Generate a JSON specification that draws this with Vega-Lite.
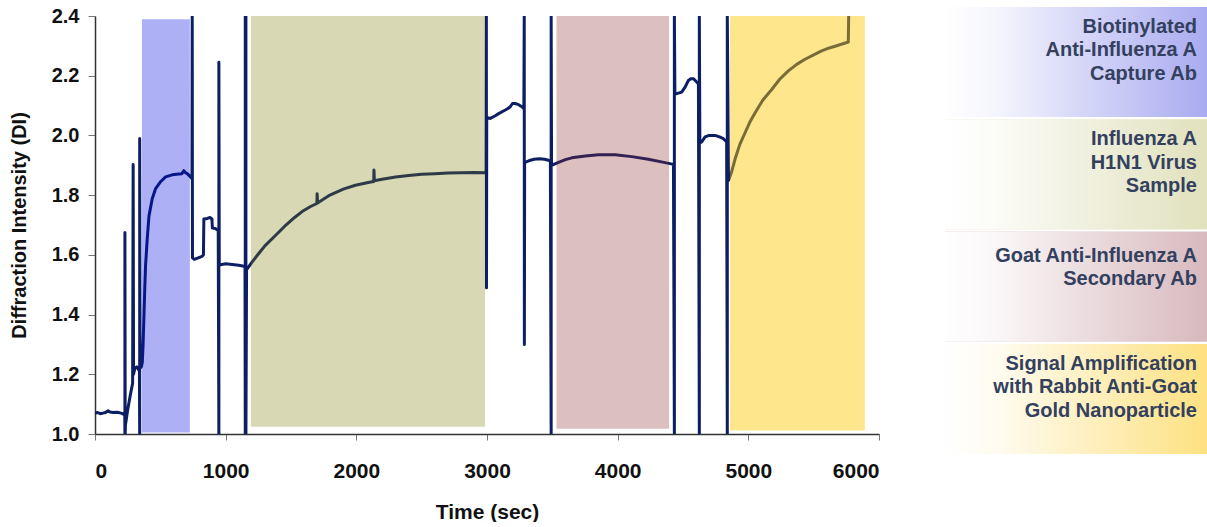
{
  "$schema": "https://vega.github.io/schema/vega-lite/v6.json",
  "background": "white",
  "padding": {"left": 9, "top": 6, "right": 0, "bottom": 0},
  "config": {
    "view": {"stroke": null},
    "font": "Liberation Sans",
    "concat": {"spacing": 65}
  },
  "datasets": {
    "trace": [
      {"t": 0, "v": 1.07}, {"t": 20, "v": 1.072}, {"t": 40, "v": 1.068}, {"t": 60, "v": 1.07}, {"t": 80, "v": 1.072},
      {"t": 100, "v": 1.078}, {"t": 115, "v": 1.074}, {"t": 140, "v": 1.072}, {"t": 170, "v": 1.073}, {"t": 200, "v": 1.07},
      {"t": 220, "v": 1.066}, {"t": 228, "v": 1.063}, {"t": 229, "v": 1.0}, {"t": 229, "v": 1.675}, {"t": 231, "v": 1.0},
      {"t": 233, "v": 1.03}, {"t": 250, "v": 1.08}, {"t": 270, "v": 1.13}, {"t": 288, "v": 1.17}, {"t": 292, "v": 1.903},
      {"t": 295, "v": 1.2}, {"t": 305, "v": 1.22}, {"t": 320, "v": 1.225}, {"t": 335, "v": 1.215}, {"t": 340, "v": 1.21},
      {"t": 342, "v": 1.0}, {"t": 342, "v": 1.99}, {"t": 345, "v": 1.22}, {"t": 355, "v": 1.225}, {"t": 362, "v": 1.24},
      {"t": 368, "v": 1.3}, {"t": 375, "v": 1.4}, {"t": 381, "v": 1.49}, {"t": 387, "v": 1.565}, {"t": 400, "v": 1.655},
      {"t": 413, "v": 1.73}, {"t": 438, "v": 1.788}, {"t": 464, "v": 1.822}, {"t": 502, "v": 1.845}, {"t": 540, "v": 1.861},
      {"t": 591, "v": 1.868}, {"t": 642, "v": 1.871}, {"t": 665, "v": 1.872}, {"t": 680, "v": 1.882}, {"t": 690, "v": 1.876},
      {"t": 706, "v": 1.872}, {"t": 731, "v": 1.861}, {"t": 742, "v": 1.855}, {"t": 744, "v": 2.4}, {"t": 746, "v": 1.59},
      {"t": 760, "v": 1.585}, {"t": 790, "v": 1.59}, {"t": 820, "v": 1.595}, {"t": 830, "v": 1.6}, {"t": 833, "v": 1.72},
      {"t": 860, "v": 1.722}, {"t": 880, "v": 1.725}, {"t": 895, "v": 1.72}, {"t": 898, "v": 1.69}, {"t": 920, "v": 1.688},
      {"t": 943, "v": 1.682}, {"t": 948, "v": 1.0}, {"t": 948, "v": 2.245}, {"t": 951, "v": 1.565}, {"t": 970, "v": 1.568},
      {"t": 1000, "v": 1.57}, {"t": 1050, "v": 1.568}, {"t": 1100, "v": 1.565}, {"t": 1140, "v": 1.562}, {"t": 1148, "v": 1.56},
      {"t": 1150, "v": 1.0}, {"t": 1150, "v": 2.4}, {"t": 1155, "v": 2.4}, {"t": 1155, "v": 1.0}, {"t": 1160, "v": 1.553},
      {"t": 1165, "v": 1.553}, {"t": 1200, "v": 1.575}, {"t": 1250, "v": 1.603}, {"t": 1300, "v": 1.63}, {"t": 1381, "v": 1.665},
      {"t": 1450, "v": 1.695}, {"t": 1530, "v": 1.726}, {"t": 1585, "v": 1.745}, {"t": 1650, "v": 1.762}, {"t": 1698, "v": 1.772},
      {"t": 1700, "v": 1.805}, {"t": 1703, "v": 1.774}, {"t": 1789, "v": 1.798}, {"t": 1900, "v": 1.82}, {"t": 1993, "v": 1.833},
      {"t": 2100, "v": 1.843}, {"t": 2133, "v": 1.846}, {"t": 2135, "v": 1.884}, {"t": 2138, "v": 1.848}, {"t": 2197, "v": 1.853},
      {"t": 2300, "v": 1.861}, {"t": 2401, "v": 1.866}, {"t": 2500, "v": 1.87}, {"t": 2600, "v": 1.872}, {"t": 2700, "v": 1.874},
      {"t": 2800, "v": 1.875}, {"t": 2900, "v": 1.876}, {"t": 2993, "v": 1.875}, {"t": 2995, "v": 2.4}, {"t": 2996, "v": 1.49},
      {"t": 2998, "v": 2.06}, {"t": 3025, "v": 2.057}, {"t": 3060, "v": 2.065}, {"t": 3089, "v": 2.073}, {"t": 3140, "v": 2.085},
      {"t": 3160, "v": 2.09}, {"t": 3178, "v": 2.096}, {"t": 3195, "v": 2.107}, {"t": 3215, "v": 2.107}, {"t": 3242, "v": 2.103},
      {"t": 3267, "v": 2.096}, {"t": 3282, "v": 2.09}, {"t": 3285, "v": 2.4}, {"t": 3286, "v": 1.3}, {"t": 3288, "v": 1.91},
      {"t": 3320, "v": 1.915}, {"t": 3360, "v": 1.92}, {"t": 3400, "v": 1.922}, {"t": 3440, "v": 1.92}, {"t": 3485, "v": 1.915},
      {"t": 3491, "v": 1.0}, {"t": 3491, "v": 2.4}, {"t": 3494, "v": 1.9}, {"t": 3547, "v": 1.91}, {"t": 3600, "v": 1.919},
      {"t": 3649, "v": 1.925}, {"t": 3752, "v": 1.931}, {"t": 3853, "v": 1.935}, {"t": 3981, "v": 1.935}, {"t": 4108, "v": 1.929},
      {"t": 4235, "v": 1.92}, {"t": 4363, "v": 1.909}, {"t": 4427, "v": 1.903}, {"t": 4434, "v": 1.0}, {"t": 4434, "v": 2.4},
      {"t": 4438, "v": 2.14}, {"t": 4452, "v": 2.14}, {"t": 4490, "v": 2.145}, {"t": 4516, "v": 2.162}, {"t": 4541, "v": 2.184},
      {"t": 4560, "v": 2.19}, {"t": 4579, "v": 2.19}, {"t": 4605, "v": 2.179}, {"t": 4618, "v": 2.172}, {"t": 4625, "v": 1.0},
      {"t": 4625, "v": 2.4}, {"t": 4629, "v": 1.975}, {"t": 4643, "v": 1.978}, {"t": 4669, "v": 1.995}, {"t": 4700, "v": 2.0},
      {"t": 4745, "v": 2.0}, {"t": 4780, "v": 1.995}, {"t": 4809, "v": 1.989}, {"t": 4834, "v": 1.978}, {"t": 4839, "v": 1.0},
      {"t": 4839, "v": 2.4}, {"t": 4848, "v": 1.849}, {"t": 4870, "v": 1.875}, {"t": 4898, "v": 1.92}, {"t": 4935, "v": 1.97},
      {"t": 4975, "v": 2.009}, {"t": 5010, "v": 2.043}, {"t": 5052, "v": 2.076}, {"t": 5110, "v": 2.118}, {"t": 5179, "v": 2.154},
      {"t": 5240, "v": 2.188}, {"t": 5306, "v": 2.216}, {"t": 5370, "v": 2.238}, {"t": 5434, "v": 2.255}, {"t": 5500, "v": 2.27},
      {"t": 5561, "v": 2.283}, {"t": 5620, "v": 2.293}, {"t": 5688, "v": 2.302}, {"t": 5765, "v": 2.313}, {"t": 5768, "v": 2.4}
    ],
    "bands": [
      {"phase": "Capture Ab", "start": 359, "end": 726, "top": 2.389, "bottom": 1.005},
      {"phase": "Virus Sample", "start": 1193, "end": 2985, "top": 2.4, "bottom": 1.024},
      {"phase": "Secondary Ab", "start": 3532, "end": 4393, "top": 2.4, "bottom": 1.018},
      {"phase": "Gold Nanoparticle", "start": 4860, "end": 5892, "top": 2.4, "bottom": 1.012}
    ],
    "steps": [
      {"key": "1", "lines": 3, "label": "Biotinylated\nAnti-Influenza A\nCapture Ab"},
      {"key": "2", "lines": 3, "label": "Influenza A\nH1N1 Virus\nSample"},
      {"key": "3", "lines": 2, "label": "Goat Anti-Influenza A\nSecondary Ab"},
      {"key": "4", "lines": 3, "label": "Signal Amplification\nwith Rabbit Anti-Goat\nGold Nanoparticle"}
    ]
  },
  "hconcat": [
    {
      "width": 784,
      "height": 418,
      "layer": [
        {
          "data": {"name": "trace"},
          "mark": {"type": "line", "color": "#0c1e64", "strokeWidth": 3, "strokeJoin": "round", "clip": true},
          "encoding": {
            "x": {
              "field": "t", "type": "quantitative",
              "scale": {"domain": [0, 6000], "nice": false},
              "axis": {
                "title": "Time (sec)", "values": [0, 1000, 2000, 3000, 4000, 5000, 6000], "format": "d",
                "grid": false, "labelFontSize": 21, "labelFontWeight": "bold", "labelColor": "#111111",
                "titleFontSize": 21, "titleFontWeight": "bold", "titleColor": "#111111",
                "tickColor": "#777777", "tickSize": 6, "domainColor": "#333333", "domainWidth": 1.5,
                "labelPadding": 20, "titlePadding": 20, "labelFont": "Liberation Sans", "titleFont": "Liberation Sans"
              }
            },
            "y": {
              "field": "v", "type": "quantitative",
              "scale": {"domain": [1.0, 2.4], "nice": false, "zero": false},
              "axis": {
                "title": "Diffraction Intensity (DI)", "values": [1.0, 1.2, 1.4, 1.6, 1.8, 2.0, 2.2, 2.4], "format": ".1f",
                "grid": false, "labelFontSize": 20, "labelFontWeight": "bold", "labelColor": "#111111",
                "titleFontSize": 20, "titleFontWeight": "bold", "titleColor": "#111111",
                "tickColor": "#777777", "tickSize": 7, "domainColor": "#333333", "domainWidth": 1.5,
                "labelPadding": 9, "titlePadding": 22, "labelFont": "Liberation Sans", "titleFont": "Liberation Sans"
              }
            },
            "order": {"value": null}
          }
        },
        {
          "data": {"name": "bands"},
          "mark": {"type": "rect"},
          "encoding": {
            "x": {"field": "start", "type": "quantitative"},
            "x2": {"field": "end"},
            "y": {"field": "top", "type": "quantitative"},
            "y2": {"field": "bottom"},
            "color": {
              "field": "phase", "type": "nominal", "legend": null,
              "scale": {
                "domain": ["Capture Ab", "Virus Sample", "Secondary Ab", "Gold Nanoparticle"],
                "range": ["rgba(0,7,224,0.318)", "rgba(125,125,5,0.3)", "rgba(138,42,42,0.3)", "rgba(251,201,5,0.46)"]
              }
            }
          }
        }
      ]
    },
    {
      "width": 262,
      "height": 438,
      "data": {"name": "steps"},
      "encoding": {
        "y": {"field": "key", "type": "ordinal", "sort": null, "axis": null, "scale": {"paddingInner": 0.02, "paddingOuter": 0, "range": [-9, 438]}}
      },
      "layer": [
        {
          "mark": {"type": "rect"},
          "encoding": {
            "x": {"datum": 0, "type": "quantitative", "scale": {"domain": [0, 1], "nice": false}, "axis": null},
            "x2": {"datum": 1},
            "color": {
              "field": "key", "type": "nominal", "legend": null,
              "scale": {"domain": ["1", "2", "3", "4"], "range": ["#a9abf0", "#e1e1be", "#d7b9be", "#fde182"]}
            }
          }
        },
        {
          "mark": {
            "type": "rect",
            "fill": {
              "gradient": "linear", "x1": 0, "x2": 1, "y1": 0, "y2": 0,
              "stops": [
                {"offset": 0, "color": "rgba(255,255,255,1)"},
                {"offset": 0.2, "color": "rgba(255,255,255,0.88)"},
                {"offset": 1, "color": "rgba(255,255,255,0)"}
              ]
            }
          },
          "encoding": {
            "x": {"datum": 0, "type": "quantitative"},
            "x2": {"datum": 1}
          }
        },
        {
          "transform": [{"filter": "datum.lines == 3"}],
          "mark": {
            "type": "text", "align": "right", "baseline": "middle", "dx": -10, "dy": -35,
            "lineBreak": "\n", "fontSize": 20, "fontWeight": "bold", "lineHeight": 23.3,
            "color": "#33405e", "font": "Liberation Sans"
          },
          "encoding": {
            "x": {"datum": 1, "type": "quantitative"},
            "text": {"field": "label"}
          }
        },
        {
          "transform": [{"filter": "datum.lines == 2"}],
          "mark": {
            "type": "text", "align": "right", "baseline": "middle", "dx": -10, "dy": -31,
            "lineBreak": "\n", "fontSize": 20, "fontWeight": "bold", "lineHeight": 23.3,
            "color": "#33405e", "font": "Liberation Sans"
          },
          "encoding": {
            "x": {"datum": 1, "type": "quantitative"},
            "text": {"field": "label"}
          }
        }
      ]
    }
  ],
  "resolve": {"scale": {"color": "independent"}}
}
